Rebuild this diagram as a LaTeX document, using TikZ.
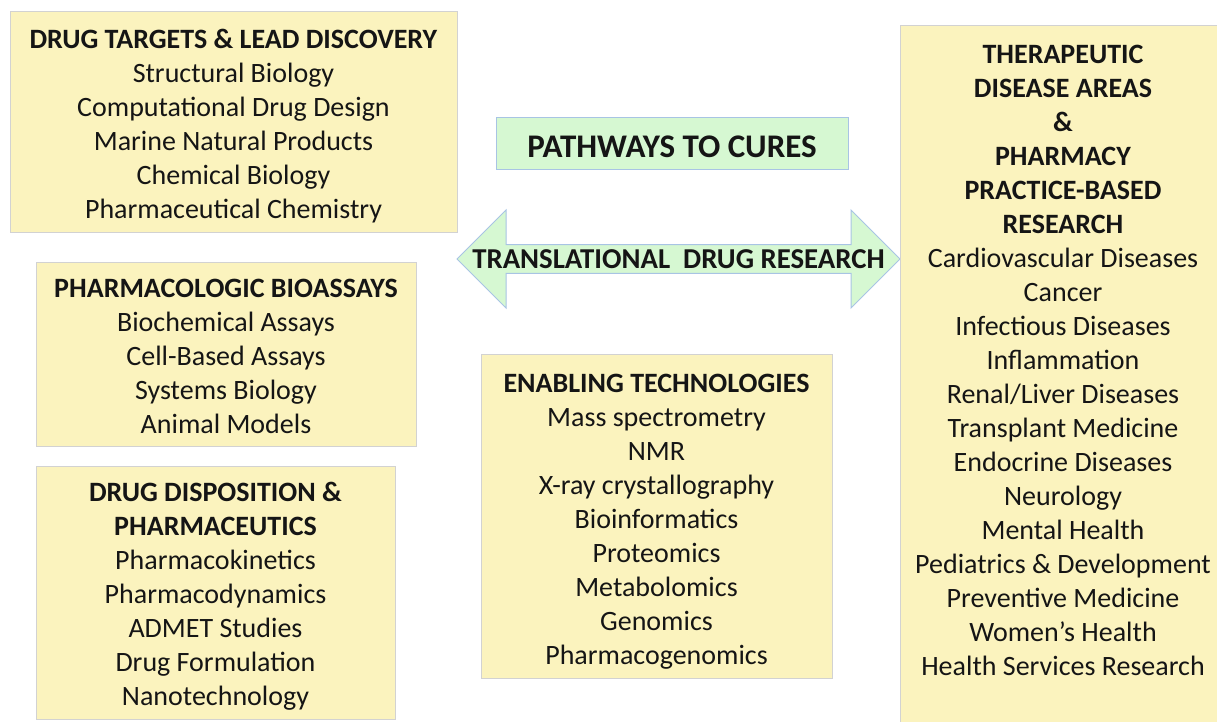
\documentclass[tikz,border=0pt]{standalone}
\usepackage{fontspec}
\setmainfont{Carlito}
\usetikzlibrary{shapes.arrows}

\definecolor{panelfill}{HTML}{FBF3BE}
\definecolor{paneledge}{HTML}{D2D2D2}
\definecolor{greenfill}{HTML}{D6F8D2}
\definecolor{greenedge}{HTML}{A8C4E4}
\definecolor{inktext}{HTML}{151515}

\begin{document}
\begin{tikzpicture}[x=1pt, y=-1pt,
    every node/.style={font=\fontsize{28}{34}\selectfont, text=inktext},
    panel/.style={draw=paneledge, line width=1pt, fill=panelfill, inner sep=0pt},
    listing/.style={align=center, inner sep=0pt, yshift=-5pt},
    banner/.style={draw=greenedge, line width=1pt, fill=greenfill,
                   inner sep=0pt}]
  \useasboundingbox (0,0) rectangle (1217,721);
  \clip (0,0) rectangle (1217,721);
  %--- left column ---
  \node[panel, minimum width=447, minimum height=221] (targets) at (233.5,121.5) {};
  \node[listing] (targetsText) at (targets)
    {\textbf{DRUG TARGETS \& LEAD DISCOVERY}\\ Structural Biology\\
     Computational Drug Design\\ Marine Natural Products\\
     Chemical Biology\\ Pharmaceutical Chemistry};
  \node[panel, minimum width=380, minimum height=184] (bioassays) at (226,354) {};
  \node[listing, yshift=3pt] (bioassaysText) at (bioassays)
    {\textbf{PHARMACOLOGIC BIOASSAYS}\\ Biochemical Assays\\
     Cell-Based Assays\\ Systems Biology\\ Animal Models};
  \node[panel, minimum width=359, minimum height=253] (disposition) at (215.5,592.5) {};
  \node[listing, yshift=1pt] (dispositionText) at (disposition)
    {\textbf{DRUG DISPOSITION \&}\\ \textbf{PHARMACEUTICS}\\
     Pharmacokinetics\\ Pharmacodynamics\\ ADMET Studies\\
     Drug Formulation\\ Nanotechnology};
  %--- middle ---
  \node[banner, minimum width=352, minimum height=52] (cures) at (672,143) {};
  \node[inner sep=0pt, font=\fontsize{33}{40}\selectfont, yshift=-4pt]
    (curesText) at (cures) {\textbf{PATHWAYS TO CURES}};
  \node[banner, double arrow, double arrow head extend=24pt,
        double arrow tip angle=90, minimum width=98, minimum height=443,
        font=\fontsize{28.8}{34}\selectfont]
    (translational) at (678.5,259)
    {\textbf{TRANSLATIONAL\ \ DRUG RESEARCH}};
  \node[panel, minimum width=351, minimum height=324] (enabling) at (656.5,516) {};
  \node[listing, yshift=-1pt] (enablingText) at (enabling)
    {\textbf{ENABLING TECHNOLOGIES}\\ Mass spectrometry\\ NMR\\
     X-ray crystallography\\ Bioinformatics\\ Proteomics\\
     Metabolomics\\ Genomics\\ Pharmacogenomics};
  %--- right column (runs off the page) ---
  \node[panel, minimum width=340, minimum height=715] (therapy) at (1070,382.5) {};
  \node[listing, yshift=5pt] (therapyText) at (1063,360)
    {\textbf{THERAPEUTIC}\\ \textbf{DISEASE AREAS}\\ \textbf{\&}\\
     \textbf{PHARMACY}\\ \textbf{PRACTICE-BASED}\\ \textbf{RESEARCH}\\
     Cardiovascular Diseases\\ Cancer\\ Infectious Diseases\\
     Inflammation\\ Renal/Liver Diseases\\ Transplant Medicine\\
     Endocrine Diseases\\ Neurology\\ Mental Health\\
     Pediatrics \& Development\\ Preventive Medicine\\
     Women’s Health\\ Health Services Research};
\end{tikzpicture}
\end{document}
